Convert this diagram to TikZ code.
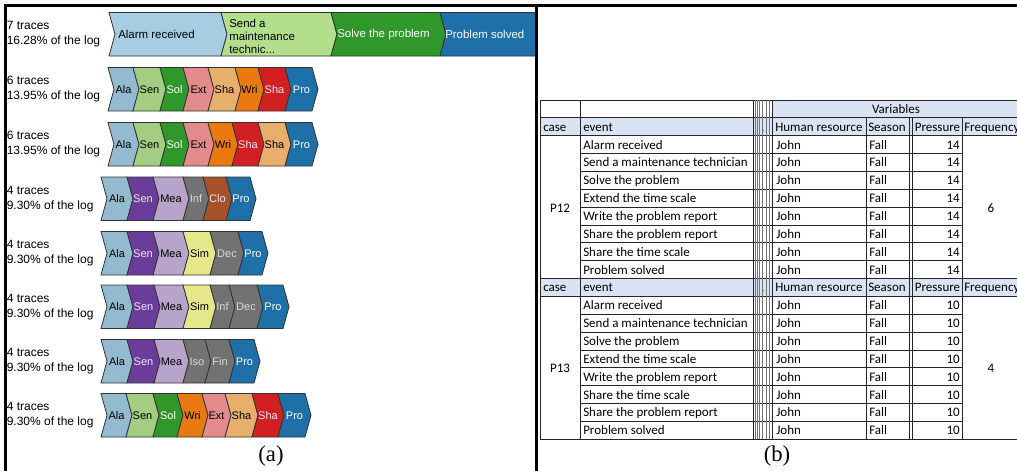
\documentclass[tikz,border=0pt]{standalone}
\usepackage{fontspec}
\setmainfont{Liberation Sans}
\newfontfamily\calib{Carlito}
\newfontfamily\tms{Liberation Serif}
\definecolor{ala1}{HTML}{A6CDE2}
\definecolor{ala}{HTML}{94BAD0}
\definecolor{sen1}{HTML}{B3DE8B}
\definecolor{sen}{HTML}{A2CD82}
\definecolor{sol}{HTML}{30982B}
\definecolor{ext}{HTML}{E38B8B}
\definecolor{shaL}{HTML}{E8AE6B}
\definecolor{wri}{HTML}{EA7A10}
\definecolor{shaR}{HTML}{D21F21}
\definecolor{pro}{HTML}{1F6FA8}
\definecolor{senP}{HTML}{6A3D9A}
\definecolor{mea}{HTML}{B8A3CB}
\definecolor{gry}{HTML}{727272}
\definecolor{clo}{HTML}{A5522A}
\definecolor{sim}{HTML}{E6E68A}
\definecolor{lt}{HTML}{F0E8F8}
\definecolor{gt}{HTML}{DADADA}
\definecolor{hdr}{HTML}{DAE3F3}
\def\chvd{6}
\def\chvh{43.5}
% name, x0, x1, top, fill, text colour, label
\newcommand\chev[7]{%
  \filldraw[chevline,fill=#5] (#2,#4) -- (#3,#4) -- ({#3+\chvd},{#4+\chvh/2}) -- (#3,{#4+\chvh}) -- (#2,{#4+\chvh}) -- ({#2+\chvd},{#4+\chvh/2}) -- cycle;
  \node[chevtext,text=#6] (#1) at ({(#2+#3)/2+\chvd/2},{#4+\chvh/2+4}) {#7};}
\newcommand\chrow[3]{%
  \foreach \a/\b/\f/\t/\l [count=\i] in {#3} {\chev{#1c\i}{\a}{\b}{#2}{\f}{\t}{\l}}}
\begin{document}
\begin{tikzpicture}[x=0.75pt,y=-0.75pt,
  chevline/.style={draw=black!80,line width=0.6pt,line join=miter},
  chevtext/.style={font=\fontsize{8.25}{9}\selectfont,inner sep=0pt,anchor=base},
  chevtextA/.style={font=\fontsize{8.6}{9.75}\selectfont,inner sep=0pt,anchor=west,align=left},
  tracelbl/.style={font=\fontsize{9}{11.25}\selectfont,inner sep=0pt,anchor=west,align=left},
  tcell/.style={font=\calib\fontsize{9.75}{11}\selectfont,inner sep=0pt,anchor=base west},
  tline/.style={draw=black!85,line width=0.6pt},
  hline/.style={draw=black!55,line width=0.6pt},
  framestyle/.style={draw=black,line width=1.9pt},
  captxt/.style={font=\tms\fontsize{17}{20}\selectfont,inner sep=0pt}]
\useasboundingbox (0,0) rectangle (1017,471);
\fill[white] (0,0) rectangle (1017,471);

% ---------- panel (a) ----------
\foreach \top/\n/\p [count=\r] in {12.5/7/16.28,67.5/6/13.95,122.5/6/13.95,177/4/9.30,231.5/4/9.30,285/4/9.30,339.5/4/9.30,393.5/4/9.30}
  \node[tracelbl] (lab\r) at (6.5,{\top+\chvh/2}) {\n{} traces\\\p\% of the log};

\begin{scope}
\clip (0,0) rectangle (535.5,471);
\foreach \a/\b/\f in {109/221/ala1,221/331/sen1,331/440/sol,440/541/pro}
  \filldraw[chevline,fill=\f] (\a,12.5) -- (\b,12.5) -- ({\b+\chvd},{12.5+\chvh/2}) -- (\b,{12.5+\chvh}) -- (\a,{12.5+\chvh}) -- ({\a+\chvd},{12.5+\chvh/2}) -- cycle;
\end{scope}
\node[chevtextA] (r1c1) at (118,34.5) {Alarm received};
\node[chevtextA] (r1c2) at (229,36.5) {Send a\\maintenance\\technic...};
\node[chevtextA,text=white] (r1c3) at (337,34.5) {Solve the problem};
\node[chevtextA,text=white] (r1c4) at (445,34.5) {Problem solved};

\chrow{r2}{67.5}{108/133/ala/black/Ala,133/160/sen/black/Sen,160/183/sol/white/Sol,183/208/ext/black/Ext,208/235/shaL/black/Sha,235/258/wri/black/Wri,258/285/shaR/lt/Sha,285/312/pro/white/Pro}
\chrow{r3}{122.5}{108/133/ala/black/Ala,133/160/sen/black/Sen,160/183/sol/white/Sol,183/208/ext/black/Ext,208/232/wri/black/Wri,232/258/shaR/lt/Sha,258/285/shaL/black/Sha,285/312/pro/white/Pro}
\chrow{r4}{177}{101/127/ala/black/Ala,127/153/senP/lt/Sen,153/183/mea/black/Mea,183/203/gry/gt/Inf,203/226/clo/lt/Clo,226/250/pro/white/Pro}
\chrow{r5}{231.5}{101/127/ala/black/Ala,127/153/senP/lt/Sen,153/183/mea/black/Mea,183/210/sim/black/Sim,210/238/gry/gt/Dec,238/262/pro/white/Pro}
\chrow{r6}{285}{101/127/ala/black/Ala,127/154/senP/lt/Sen,154/183/mea/black/Mea,183/210/sim/black/Sim,210/229/gry/gt/Inf,229/257/gry/gt/Dec,257/283/pro/white/Pro}
\chrow{r7}{339.5}{101/127/ala/black/Ala,127/154/senP/lt/Sen,154/183/mea/black/Mea,183/205/gry/gt/Iso,205/229/gry/gt/Fin,229/254/pro/white/Pro}
\chrow{r8}{393.5}{101/126/ala/black/Ala,126/153/sen/black/Sen,153/177/sol/white/Sol,177/202/wri/black/Wri,202/225/ext/black/Ext,225/252/shaL/black/Sha,252/278/shaR/lt/Sha,278/305/pro/white/Pro}

\node[captxt] (capa) at (271,456) {(a)};

% ---------- panel (b) ----------
\def\rh{17.85}
\fill[hdr] (773,100) rectangle (1017,{100+\rh});
\foreach \k in {1,10} \fill[hdr] (540,{100+\k*\rh}) rectangle (1017,{100+(\k+1)*\rh});
\foreach \k in {3,...,9,12,13,...,18}
  \draw[tline] (580,{100+\k*\rh}) -- (962,{100+\k*\rh});
\foreach \k in {0,1,2,10,11,19}
  \draw[tline] (540,{100+\k*\rh}) -- (1017,{100+\k*\rh});
\foreach \x in {540,580,753,772.3}
  \draw[tline] (\x,100) -- (\x,{100+19*\rh});
\foreach \x in {755.7,757.3,759.3,762.3,766.7,769.3}
  \draw[hline] (\x,100) -- (\x,{100+19*\rh});
\foreach \x in {866,909,912.5,962}
  \draw[tline] (\x,{100+\rh}) -- (\x,{100+19*\rh});

\node[tcell,anchor=base] (var) at (896,{100+0.5*\rh+4.5}) {Variables};
\foreach \k/\b in {1/A,10/B} {
  \pgfmathsetmacro\yy{100+(\k+0.5)*\rh+4.5}
  \node[tcell] (case\b) at (543,\yy) {case};
  \node[tcell] (event\b) at (583,\yy) {event};
  \node[tcell,font=\calib\fontsize{5}{6}\selectfont] (dot\b) at (762.5,\yy) {.};
  \node[tcell] (hr\b) at (775,\yy) {Human resource};
  \node[tcell] (season\b) at (868,\yy) {Season};
  \node[tcell] (press\b) at (914.5,\yy) {Pressure};
  \node[tcell] (freq\b) at (964,\yy) {Frequency};}
\foreach \e [count=\j] in {Alarm received,Send a maintenance technician,Solve the problem,Extend the time scale,Write the problem report,Share the problem report,Share the time scale,Problem solved} {
  \pgfmathsetmacro\yy{100+(\j+1.5)*\rh+4.5}
  \node[tcell] (evA\j) at (583,\yy) {\e};
  \node[tcell] (hrA\j) at (776,\yy) {John};
  \node[tcell] (seA\j) at (869,\yy) {Fall};
  \node[tcell,anchor=base east] (prA\j) at (960,\yy) {14};}
\foreach \e [count=\j] in {Alarm received,Send a maintenance technician,Solve the problem,Extend the time scale,Write the problem report,Share the time scale,Share the problem report,Problem solved} {
  \pgfmathsetmacro\yy{100+(\j+10.5)*\rh+4.5}
  \node[tcell] (evB\j) at (583,\yy) {\e};
  \node[tcell] (hrB\j) at (776,\yy) {John};
  \node[tcell] (seB\j) at (869,\yy) {Fall};
  \node[tcell,anchor=base east] (prB\j) at (960,\yy) {10};}
\node[tcell,anchor=base] (p12) at (560,{207.5+4.5}) {P12};
\node[tcell,anchor=base] (f6) at (991,{207.5+4.5}) {6};
\node[tcell,anchor=base] (p13) at (560,{367.5+4.5}) {P13};
\node[tcell,anchor=base] (f4) at (991,{367.5+4.5}) {4};

\node[captxt] (capb) at (777,456) {(b)};

% ---------- frame ----------
\draw[framestyle] (5.5,471) -- (5.5,5.5) -- (1017,5.5);
\draw[framestyle] (536.5,5.5) -- (536.5,471);
\end{tikzpicture}
\end{document}
